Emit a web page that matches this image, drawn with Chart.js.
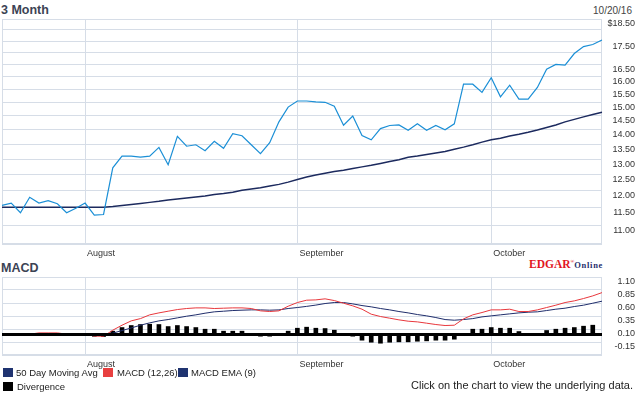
<!DOCTYPE html>
<html>
<head>
<meta charset="utf-8">
<script src="https://cdn.jsdelivr.net/npm/chart.js@4.4.0/dist/chart.umd.min.js"></script>
<style>
  body { margin: 0; background: #fff; width: 635px; height: 395px; overflow: hidden; position: relative;
         font-family: "Liberation Sans", Arial, sans-serif; color: #333; }
  .t { position: absolute; white-space: nowrap; line-height: 1; }
  .head { font-weight: bold; font-size: 12.5px; color: #3c4354; }
  .sq { position: absolute; width: 10px; height: 9px; }
  .lg { position: absolute; font-size: 9.5px; color: #222; white-space: nowrap; line-height: 1; }
  canvas { position: absolute; left: 0; }
</style>
</head>
<body>
<div class="t head" style="left:1px;top:4px">3 Month</div>
<div class="t" style="right:3px;top:6px;font-size:10px;color:#444">10/20/16</div>
<canvas id="priceChart" width="635" height="258" style="top:0"></canvas>

<div class="t head" style="left:1px;top:262px">MACD</div>
<div class="t" style="left:529px;top:259px;font-family:'Liberation Serif',serif;font-weight:bold;font-size:11.5px;color:#e2161f">EDGAR<span style="font-size:5px;vertical-align:top">®</span><span style="font-size:8.5px;letter-spacing:0.7px;color:#1f2d6b">Online</span></div>
<canvas id="macdChart" width="635" height="112" style="top:258px"></canvas>

<div class="sq" style="left:3px;top:368px;background:#1f3370"></div>
<div class="lg" style="left:16px;top:368px">50 Day Moving Avg</div>
<div class="sq" style="left:103px;top:368px;background:#e84040"></div>
<div class="lg" style="left:117px;top:368px">MACD (12,26)</div>
<div class="sq" style="left:178px;top:368px;background:#1f3370"></div>
<div class="lg" style="left:191px;top:368px">MACD EMA (9)</div>
<div class="sq" style="left:3px;top:382px;background:#000"></div>
<div class="lg" style="left:17px;top:382px">Divergence</div>
<div class="t" style="right:2px;top:380px;font-size:11px;color:#222">Click on the chart to view the underlying data.</div>

<script>
// 66 trading days, Jul 19 - Oct 20 2016
const days = Array.from({ length: 66 }, (_, i) => i);
const monthIdx = [9, 32, 53];
const monthNames = ['August', 'September', 'October'];

const price = [
  11.57, 11.64, 11.36, 11.81, 11.64, 11.71, 11.62, 11.36, 11.49, 11.64,
  11.29, 11.31, 12.72, 13.10, 13.10, 13.07, 13.10, 13.39, 12.82, 13.77,
  13.43, 13.48, 13.28, 13.60, 13.36, 13.86, 13.79, 13.48, 13.18, 13.55,
  14.28, 14.82, 15.05, 15.05, 15.02, 15.00, 14.85, 14.16, 14.49, 13.80,
  13.65, 14.04, 14.15, 14.17, 13.98, 14.21, 13.98, 14.15, 14.00, 14.21,
  15.70, 15.70, 15.38, 15.96, 15.21, 15.66, 15.12, 15.12, 15.57, 16.30,
  16.50, 16.47, 16.96, 17.26, 17.35, 17.55
];
const avg50 = [
  11.52, 11.52, 11.52, 11.52, 11.52, 11.52, 11.52, 11.52, 11.52, 11.52,
  11.52, 11.52, 11.54, 11.57, 11.60, 11.63, 11.66, 11.69, 11.73, 11.76,
  11.79, 11.82, 11.85, 11.89, 11.92, 11.96, 12.02, 12.06, 12.10, 12.15,
  12.20, 12.27, 12.35, 12.43, 12.49, 12.55, 12.60, 12.64, 12.70, 12.75,
  12.80, 12.86, 12.92, 12.98, 13.06, 13.10, 13.15, 13.20, 13.25, 13.33,
  13.40, 13.48, 13.57, 13.65, 13.70, 13.78, 13.84, 13.91, 13.99, 14.08,
  14.17, 14.28, 14.37, 14.46, 14.55, 14.63
];
const macd = [
  0, 0, 0, 0, 0.025, 0.025, 0.025, 0, 0, 0,
  -0.035, -0.04, 0.077, 0.173, 0.256, 0.30, 0.372, 0.41, 0.442, 0.474,
  0.494, 0.506, 0.506, 0.494, 0.50, 0.506, 0.506, 0.494, 0.449, 0.436,
  0.449, 0.538, 0.609, 0.654, 0.66, 0.68, 0.647, 0.596, 0.545, 0.481,
  0.385, 0.34, 0.308, 0.276, 0.25, 0.237, 0.212, 0.186, 0.167, 0.173,
  0.295, 0.372, 0.417, 0.468, 0.468, 0.481, 0.436, 0.436, 0.468, 0.513,
  0.558, 0.609, 0.641, 0.686, 0.737, 0.80
];
const macdEma = [
  0, 0, 0, 0, 0, 0, 0, 0, 0, 0,
  0, 0, 0.02, 0.07, 0.12, 0.173, 0.218, 0.256, 0.282, 0.314,
  0.346, 0.372, 0.404, 0.43, 0.442, 0.455, 0.462, 0.468, 0.468, 0.462,
  0.468, 0.494, 0.513, 0.535, 0.56, 0.59, 0.609, 0.609, 0.583, 0.551,
  0.526, 0.494, 0.468, 0.436, 0.41, 0.378, 0.353, 0.32, 0.282, 0.269,
  0.282, 0.30, 0.333, 0.353, 0.372, 0.391, 0.41, 0.423, 0.43, 0.455,
  0.481, 0.50, 0.532, 0.558, 0.596, 0.635
];
const divergence = [
  0, 0, 0, 0, 0, 0, 0, 0, 0, 0,
  -0.04, -0.045, 0.058, 0.128, 0.167, 0.186, 0.192, 0.186, 0.147, 0.167,
  0.147, 0.128, 0.096, 0.096, 0.058, 0.058, 0.058, 0, -0.038, -0.038,
  0, 0.058, 0.115, 0.135, 0.115, 0.109, 0.077, 0, -0.038, -0.115,
  -0.154, -0.173, -0.154, -0.147, -0.147, -0.135, -0.128, -0.115, -0.115, -0.096,
  0, 0.096, 0.096, 0.128, 0.115, 0.115, 0.051, 0, 0, 0.071,
  0.096, 0.115, 0.128, 0.154, 0.173, 0
];

const priceTicks = [10.5, 11, 11.5, 12, 12.5, 13, 13.5, 14, 14.5, 15, 15.5, 16, 16.5, 17, 17.5, 18, 18.5];
const priceTickLabels = ['', '11.00', '11.50', '12.00', '12.50', '13.00', '13.50', '14.00', '14.50',
  '15.00', '15.50', '16.00', '16.50', '', '17.50', '', '$18.50'];
const macdTicks = [-0.4, -0.15, 0.1, 0.35, 0.6, 0.85, 1.1];
const macdTickLabels = ['', '-0.15', '0.10', '0.35', '0.60', '0.85', '1.10'];

Chart.defaults.font.family = '"Liberation Sans", Arial, sans-serif';
const gridColor = '#d6dde7';
const tickFont = { size: 9 };
const tickColor = '#333';

// light frame round the plot area
const frame = {
  id: 'frame',
  beforeDatasetsDraw(chart) {
    const { ctx, chartArea: a } = chart;
    ctx.save();
    ctx.strokeStyle = gridColor;
    ctx.lineWidth = 1;
    ctx.strokeRect(Math.round(a.left) + 0.5, Math.round(a.top) + 0.5,
      Math.round(a.right - a.left) - 1, Math.round(a.bottom - a.top) - 1);
    ctx.restore();
  }
};

// thick black zero line of the MACD panel
const zeroLine = {
  id: 'zeroLine',
  afterDatasetsDraw(chart) {
    const { ctx, chartArea: a } = chart;
    const y = Math.round(chart.scales.y.getPixelForValue(0));
    ctx.save();
    ctx.fillStyle = '#000';
    ctx.fillRect(a.left, y - 1, a.right - a.left, 3);
    ctx.restore();
  }
};

function monthAxis(height) {
  return {
    type: 'category',
    offset: false,
    grid: { color: gridColor, drawTicks: false, offset: false },
    border: { display: false },
    ticks: {
      autoSkip: false, maxRotation: 0, align: 'start', labelOffset: 2, padding: 4,
      font: tickFont, color: tickColor,
      callback: (v, i) => monthNames[i]
    },
    afterBuildTicks: axis => { axis.ticks = monthIdx.map(v => ({ value: v })); },
    afterFit: axis => { axis.height = height; }
  };
}

function rightAxis(type, min, max, ticks, labels) {
  return {
    type: type,
    position: 'right',
    min: min,
    max: max,
    grid: { color: gridColor, drawTicks: false },
    border: { display: false },
    ticks: {
      autoSkip: false, crossAlign: 'far', padding: 3, labelOffset: 5,
      font: tickFont, color: tickColor,
      callback: (v, i) => labels[i]
    },
    afterBuildTicks: axis => { axis.ticks = ticks.map(v => ({ value: v })); },
    afterFit: axis => { axis.width = 33; }
  };
}

new Chart(document.getElementById('priceChart'), {
  type: 'line',
  data: {
    labels: days,
    datasets: [
      { label: 'Price', data: price, borderColor: '#1b8fd6', borderWidth: 1.2, pointRadius: 0, tension: 0 },
      { label: '50 Day Moving Avg', data: avg50, borderColor: '#1c2a5e', borderWidth: 1.5, pointRadius: 0, tension: 0 }
    ]
  },
  options: {
    responsive: false,
    animation: false,
    layout: { padding: { top: 19, left: 2, right: 0, bottom: 0 } },
    plugins: { legend: { display: false }, tooltip: { enabled: false } },
    scales: {
      x: monthAxis(14),
      y: rightAxis('logarithmic', 10.5, 18.5, priceTicks, priceTickLabels)
    }
  },
  plugins: [frame]
});

new Chart(document.getElementById('macdChart'), {
  type: 'bar',
  data: {
    labels: days,
    datasets: [
      { type: 'line', label: 'MACD (12,26)', data: macd, borderColor: '#e8383d', borderWidth: 1, pointRadius: 0, tension: 0 },
      { type: 'line', label: 'MACD EMA (9)', data: macdEma, borderColor: '#1f2d6b', borderWidth: 1, pointRadius: 0, tension: 0 },
      { label: 'Divergence', data: divergence, backgroundColor: '#000', barThickness: 4 }
    ]
  },
  options: {
    responsive: false,
    animation: false,
    layout: { padding: { top: 19, left: 2, right: 0, bottom: 0 } },
    plugins: { legend: { display: false }, tooltip: { enabled: false } },
    scales: {
      x: monthAxis(15),
      y: rightAxis('linear', -0.4, 1.1, macdTicks, macdTickLabels)
    }
  },
  plugins: [frame, zeroLine]
});
</script>
</body>
</html>
